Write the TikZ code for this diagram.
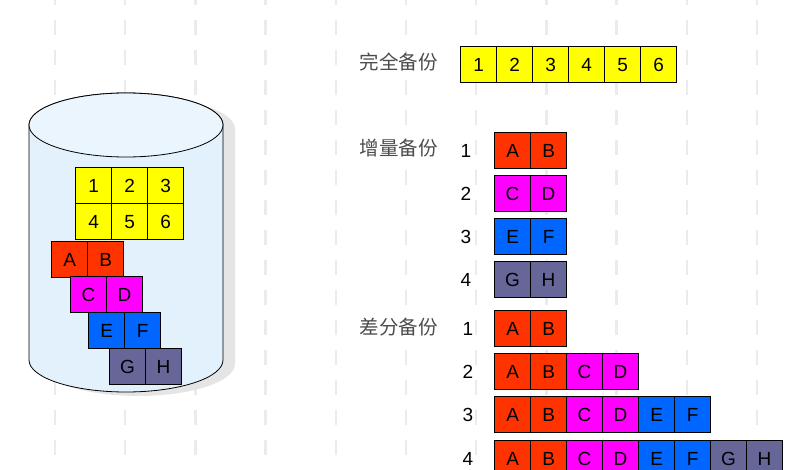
\documentclass[tikz,border=0pt]{standalone}
\usepackage{fontspec}
\setmainfont{Liberation Sans}
\newfontfamily\cjk{Noto Sans CJK SC}
\usepackage{tikz}
\usetikzlibrary{matrix,positioning}
\definecolor{byel}{HTML}{FFFF00}
\definecolor{bred}{HTML}{FF3300}
\definecolor{bmag}{HTML}{FF00FF}
\definecolor{bblue}{HTML}{0066FF}
\definecolor{bgray}{HTML}{666699}
\definecolor{cylbody}{HTML}{E3F1FC}
\definecolor{cyltop}{HTML}{EAF5FE}
\tikzset{
bkmat/.style={
  matrix of nodes,
  inner sep=0pt,
  nodes={draw,line width=0.8pt,inner sep=0pt,minimum size=36pt,
    font=\fontsize{19}{22}\selectfont},
  column sep=-0.8pt,
  row sep=-0.8pt,
  anchor=north west
  },
bkmats/.style={
  bkmat,
  nodes={fill=#1},
  },
diffcols/.style={
  column 1/.style={nodes={fill=bred}},
  column 2/.style={nodes={fill=bred}},
  column 3/.style={nodes={fill=bmag}},
  column 4/.style={nodes={fill=bmag}},
  column 5/.style={nodes={fill=bblue}},
  column 6/.style={nodes={fill=bblue}},
  column 7/.style={nodes={fill=bgray}},
  column 8/.style={nodes={fill=bgray}}
  },
kind/.style={anchor=west,text=black!70,font=\cjk\fontsize{19.5}{22}\selectfont},
num/.style={font=\fontsize{19}{22}\selectfont}
}

\begin{document}
\begin{tikzpicture}[x=1pt,y=-1pt]
  \useasboundingbox (0,0) rectangle (789,470);
  \clip (0,0) rectangle (789,470);
  % slide background
  \foreach \i in {0,...,10}
    \draw[black!8,line width=2.5pt,dash pattern=on 15pt off 15pt,dash phase=10pt]
      ({55+70.2*\i},0) -- ({55+70.2*\i},470);

  % disk
  \fill[black!10] (41,129) -- (41,364)
    arc[start angle=180,end angle=360,x radius=97pt,y radius=32pt]
    -- (235,129) arc[start angle=0,end angle=180,x radius=97pt,y radius=32pt] -- cycle;
  \draw[fill=cylbody,line width=0.8pt] (29,125) -- (29,360)
    arc[start angle=180,end angle=360,x radius=97pt,y radius=32pt]
    -- (223,125) arc[start angle=0,end angle=180,x radius=97pt,y radius=32pt] -- cycle;
  \draw[fill=cyltop,line width=0.8pt] (126,125) ellipse[x radius=97pt,y radius=32pt];

  \matrix[bkmats=byel] (disk0) at (75,167) {1 & 2 & 3 \\ 4 & 5 & 6 \\};
  \matrix[bkmats=bred] (disk1) at (51,241) {A & B \\};
  \matrix[bkmats=bmag] (disk2) at (70,276) {C & D \\};
  \matrix[bkmats=bblue] (disk3) at (88,312) {E & F \\};
  \matrix[bkmats=bgray] (disk4) at (109,348) {G & H \\};

  % full backup
  \node[kind] (full) at (356,62) {完全备份};
  \matrix[bkmats=byel] (full0) at (460,46) {1 & 2 & 3 & 4 & 5 & 6 \\};

  % incremental backup
  \node[kind] (inc) at (356,148) {增量备份};
  \node[num] (inum1) at (466,151) {1};
  \node[num] (inum2) at (466,194) {2};
  \node[num] (inum3) at (466,237) {3};
  \node[num] (inum4) at (466,280) {4};
  \matrix[bkmats=bred] (inc1) at (494,132) {A & B \\};
  \matrix[bkmats=bmag] (inc2) at (494,175) {C & D \\};
  \matrix[bkmats=bblue] (inc3) at (494,218) {E & F \\};
  \matrix[bkmats=bgray] (inc4) at (494,261) {G & H \\};

  % differential backup
  \node[kind] (diff) at (356,327) {差分备份};
  \node[num] (dnum1) at (468,329) {1};
  \node[num] (dnum2) at (468,372) {2};
  \node[num] (dnum3) at (468,415) {3};
  \node[num] (dnum4) at (468,459) {4};
  \matrix[bkmat,diffcols] (diff1) at (494,310) {A & B \\};
  \matrix[bkmat,diffcols] (diff2) at (494,353) {A & B & C & D \\};
  \matrix[bkmat,diffcols] (diff3) at (494,396) {A & B & C & D & E & F \\};
  \matrix[bkmat,diffcols] (diff4) at (494,440) {A & B & C & D & E & F & G & H \\};
\end{tikzpicture}
\end{document}
